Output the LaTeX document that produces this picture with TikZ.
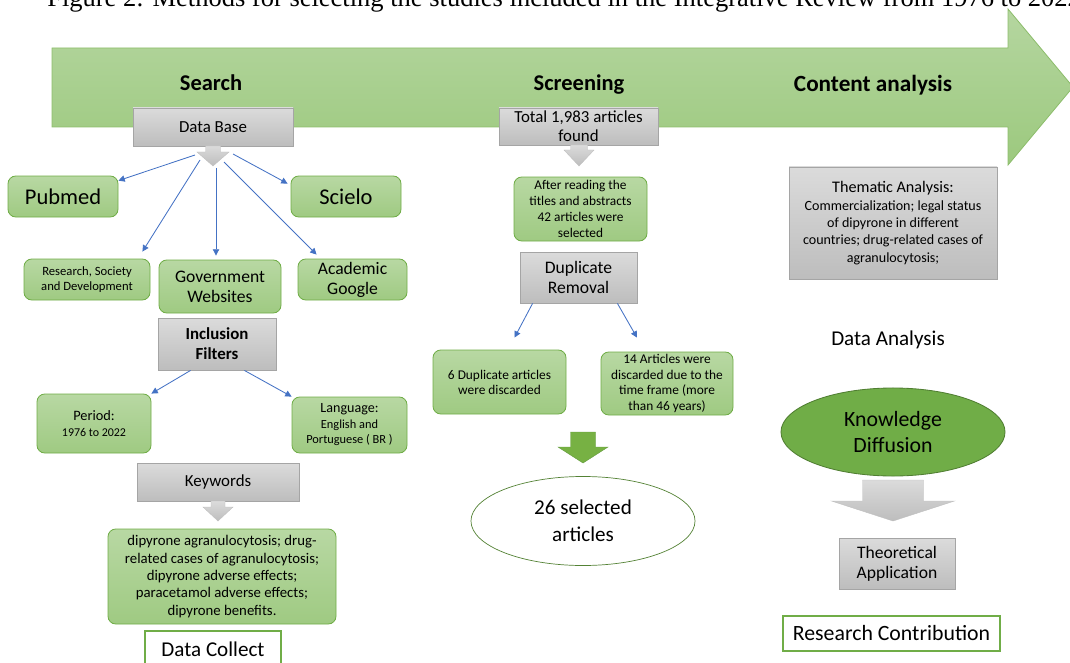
\documentclass[tikz,border=0pt]{standalone}
\usepackage{fontspec}
\setmainfont{Carlito}
\newfontfamily\capfont{Liberation Serif}
\usetikzlibrary{arrows.meta, positioning, calc, shapes}

\definecolor{gtop}{HTML}{B8D8A3}
\definecolor{gbot}{HTML}{9FCA82}
\definecolor{boxedge}{HTML}{70AD47}
\definecolor{darkgreen}{HTML}{70AD47}
\definecolor{deepgreen}{HTML}{507E32}
\definecolor{graytop}{HTML}{DBDBDB}
\definecolor{graybot}{HTML}{BDBDBD}
\definecolor{grayedge}{HTML}{A5A5A5}
\definecolor{linkblue}{HTML}{4472C4}
\definecolor{bigtop}{HTML}{B5D6A0}
\definecolor{bigbot}{HTML}{9CC97E}

\newcommand{\fsz}[2]{\fontsize{#1}{#2}\selectfont}
% block arrow pointing down: style, x, top, head, tip, half shaft, half head
\newcommand{\blockarrow}[7]{\draw[#1] (#2-#6,#3) -- (#2+#6,#3) -- (#2+#6,#4) -- (#2+#7,#4) -- (#2,#5) -- (#2-#7,#4) -- (#2-#6,#4) -- cycle;}

\begin{document}
\begin{tikzpicture}[x=0.025cm, y=-0.025cm,
  area/.style args={(#1,#2)(#3,#4)}{at={({(#1+#3)/2},{(#2+#4)/2})}, minimum width={(#3-#1)*0.025cm}, minimum height={(#4-#2)*0.025cm}},
  gbox/.style={draw=boxedge, line width=0.6pt, rounded corners=5.5pt, top color=gtop, bottom color=gbot, inner sep=0pt, align=center},
  graybox/.style={draw=grayedge, line width=0.6pt, top color=graytop, bottom color=graybot, inner sep=0pt, align=center},
  whitebox/.style={draw=boxedge, line width=0.8pt, fill=white, inner sep=0pt},
  header/.style={anchor=base, font=\bfseries\fsz{16}{19}},
  link/.style={draw=linkblue, line width=0.6pt, -{Triangle[length=4.5pt, width=4.5pt]}},
  grayblock/.style={draw=grayedge!70, line width=0.3pt, top color=graytop, bottom color=graybot}]
  \useasboundingbox (0,0) rectangle (1070,663);
  \clip (0,0) rectangle (1070,663);

  \node[anchor=base west, inner sep=0pt, font=\capfont\fsz{18.85}{21}] (caption) at (47,7)
    {Figure 2: Methods for selecting the studies included in the Integrative Review from 1976 to 2022};

  % main arrow
  \draw[draw=boxedge!80, line width=0.6pt, top color=bigtop, bottom color=bigbot]
    (52,48) -- (1008,48) -- (1008,9) -- (1073,87) -- (1008,165) -- (1008,127) -- (52,127) -- cycle;
  \node[header] (search) at (211,91) {Search};
  \node[header] (screen) at (579,91) {Screening};
  \node[header, font=\bfseries\fsz{16.5}{19}] (content) at (873,92) {Content analysis};

  % search
  \node[graybox, area={(133,108)(293,146)}, font=\fsz{12}{14}] (db) {Data Base};
  \blockarrow{grayblock}{213}{146}{152}{166}{7.5}{16}
  \node[gbox, area={(8,176)(118,217)}, font=\fsz{16}{19}] (pub) {Pubmed};
  \node[gbox, area={(291,176)(401,217)}, font=\fsz{16}{19}] (sci) {Scielo};
  \node[gbox, area={(24,259)(150,300)}, font=\fsz{9}{10.7}] (rsd) {Research, Society\\and Development};
  \node[gbox, area={(159,260)(281,313)}, font=\fsz{12.5}{14.2}] (gov) {Government\\Websites};
  \node[gbox, area={(298,259)(407,300)}, font=\fsz{12.5}{14.2}] (acad) {Academic\\Google};
  \coordinate (s1) at (195,155);
  \coordinate (s2) at (200,160);
  \coordinate (s3) at (216,168);
  \coordinate (s4) at (224,162);
  \coordinate (s5) at (233,154);
  \draw[link] (s1) -- (pub.16);
  \draw[link] (s2) -- ($(rsd.north east)+(-8,-7)$);
  \draw[link] (s3) -- ($(s3 |- gov.north)+(0,-4)$);
  \draw[link] (s4) -- ($(acad.north west)+(19,-4)$);
  \draw[link] (s5) -- ($(sci.north west)+(-3,8)$);

  \node[graybox, area={(158,318)(276,370)}, font=\bfseries\fsz{12}{14.2}] (inc) {Inclusion\\Filters};
  \node[gbox, area={(37,394)(151,453)}, font=\fsz{10.2}{12}] (per) {Period:\\{\fsz{8.5}{11}1976 to 2022}};
  \node[gbox, area={(292,397)(407,453)}, font=\fsz{8.8}{11}] (lang) {{\fsz{10}{11}Language:}\\English and\\Portuguese ( BR )};
  \draw[link] ($(inc.south west)+(33,0)$) -- (per.north east);
  \draw[link] ($(inc.south east)+(-32,0)$) -- (lang.north west);

  \node[graybox, area={(137,463)(299,501)}, font=\fsz{12}{14}] (kw) {Keywords};
  \blockarrow{grayblock}{218}{501}{507}{521}{7}{15}
  \node[gbox, area={(108,529)(336,624)}, font=\fsz{10.5}{12.4}] (kwlist)
    {dipyrone agranulocytosis; drug-\\related cases of agranulocytosis;\\dipyrone adverse effects;\\paracetamol adverse effects;\\dipyrone benefits.};
  \node[whitebox, area={(145,631)(281,668)}, font=\fsz{15}{18}] (collect) {Data Collect};

  % screening
  \node[graybox, area={(499,108)(658,145)}, font=\fsz{12}{13.5}] (total) {Total 1,983 articles\\found};
  \blockarrow{grayblock}{579}{145}{150}{166}{8.5}{15}
  \node[gbox, area={(514,177)(647,241)}, font=\fsz{9.5}{11.4}] (read) {After reading the\\titles and abstracts\\42 articles were\\selected};
  \node[graybox, area={(520,252)(637,303)}, font=\fsz{12.5}{13.8}] (dup) {Duplicate\\Removal};
  \node[gbox, area={(433,350)(566,414)}, font=\fsz{9.5}{10.7}] (dup6) {6 Duplicate articles\\were discarded};
  \node[gbox, area={(601,352)(733,415)}, font=\fsz{9.5}{11.1}] (dis14) {14 Articles were\\discarded due to the\\time frame (more\\than 46 years)};
  \draw[link] ($(dup.south west)+(13,0)$) -- ($(dup6.north)+(15,-12)$);
  \draw[link] ($(dup.south east)+(-20,0)$) -- ($(dis14.north)+(-30,-14)$);
  \blockarrow{draw=darkgreen!90!black, line width=0.3pt, fill=darkgreen!95!yellow}{583}{432}{447}{463}{12.5}{25}
  \node[ellipse, draw=darkgreen!75!black, line width=0.5pt, fill=white, minimum width=5.6cm, minimum height=2.225cm,
    inner sep=0pt, align=center, font=\fsz{15}{19}] (sel) at (583,521) {26 selected\\articles};

  % content analysis
  \node[graybox, area={(789,167)(997,279)}, font=\fsz{10}{12.3}] (them)
    {{\fsz{11.5}{12.3}Thematic Analysis:}\\Commercialization; legal status\\of dipyrone in different\\countries; drug-related cases of\\agranulocytosis;};
  \node[font=\fsz{15}{18}] (dana) at (888,340) {Data Analysis};
  \node[ellipse, draw=deepgreen, line width=0.6pt, fill=darkgreen, minimum width=5.6cm, minimum height=2.2cm,
    inner sep=0pt, align=center, font=\fsz{15.5}{19}] (know) at (893,432) {Knowledge\\Diffusion};
  \blockarrow{grayblock}{893}{480}{501}{521}{30.5}{61.5}
  \node[graybox, area={(839,538)(955,589)}, font=\fsz{12.5}{14.2}] (theo) {Theoretical\\Application};
  \node[whitebox, area={(783,616)(1000,651)}, font=\fsz{15.5}{18}] (contrib) {Research Contribution};
  %\draw[help lines] (0,0) grid[step=50] (1070,663);
\end{tikzpicture}
\end{document}
